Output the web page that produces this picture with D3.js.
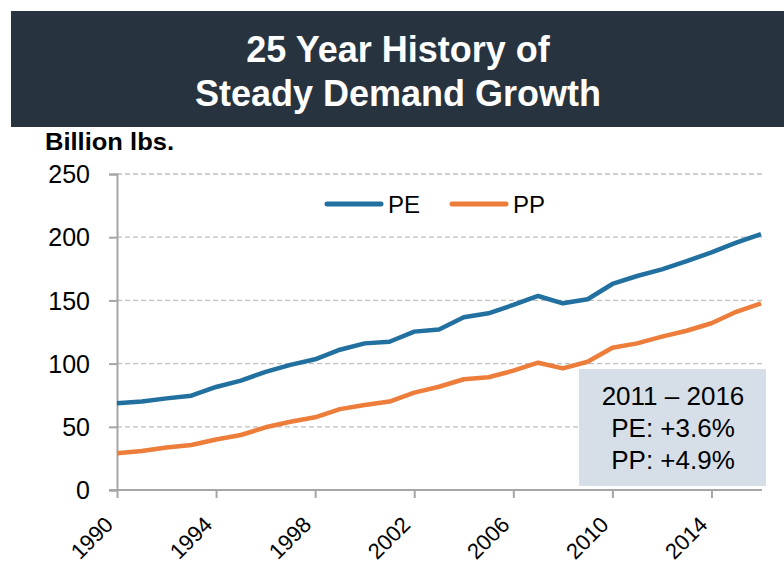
<!DOCTYPE html>
<html>
<head>
<meta charset="utf-8">
<script src="https://cdn.jsdelivr.net/npm/d3@7"></script>
<style>
  html, body { margin: 0; padding: 0; background: #fff; }
  svg { display: block; font-family: "Liberation Sans", Arial, sans-serif; }
</style>
</head>
<body>
<svg id="chart" width="784" height="566"></svg>
<script>
const years = d3.range(1990, 2017);
const peValues = [68.6, 70, 72.5, 74.6, 81.5, 86.5, 93.5, 99, 103.4, 111, 116, 117.3, 125.3, 127, 136.6, 139.8, 146.4, 153.5, 147.7, 150.9, 163, 169.3, 174.6, 181, 188, 195.7, 202.5];
const ppValues = [29, 30.9, 33.7, 35.6, 40, 43.5, 49.6, 54, 57.5, 64, 67.2, 70, 77, 81.7, 87.6, 89.2, 94.4, 100.7, 96.2, 101.5, 112.5, 116, 121.3, 126, 131.9, 141, 147.7];
const yTicks = [0, 50, 100, 150, 200, 250];
const xTickYears = [1990, 1994, 1998, 2002, 2006, 2010, 2014];
const seriesNames = ["PE", "PP"];
const seriesColors = ["#21709f", "#ed7d3a"];
const titleLines = ["25 Year History of", "Steady Demand Growth"];
const unitLabel = "Billion lbs.";
const noteLines = ["2011 \u2013 2016", "PE: +3.6%", "PP: +4.9%"];

const svg = d3.select("#chart");

// Title banner
svg.append("rect").attr("x", 11).attr("y", 11).attr("width", 773).attr("height", 116).attr("fill", "#27343f");
svg.selectAll("text.title").data(titleLines).enter().append("text")
  .attr("class", "title")
  .attr("x", 398).attr("y", (d, i) => 62 + i * 44)
  .attr("text-anchor", "middle").attr("fill", "#ffffff")
  .attr("font-weight", "bold").attr("font-size", 36)
  .text(d => d);

// Unit label
svg.append("text").attr("x", 45).attr("y", 150)
  .attr("font-weight", "bold").attr("font-size", 24).attr("fill", "#000")
  .attr("textLength", 129).attr("lengthAdjust", "spacingAndGlyphs")
  .text(unitLabel);

const x = d3.scaleLinear().domain([1990, 2016]).range([117, 761]);
const y = d3.scaleLinear().domain([0, 250]).range([490, 174]);

// Gridlines
svg.append("g").selectAll("line").data(yTicks.filter(d => d > 0)).enter().append("line")
  .attr("x1", 117).attr("x2", 762)
  .attr("y1", d => y(d)).attr("y2", d => y(d))
  .attr("stroke", "#c0c0c0").attr("stroke-width", 1.3).attr("stroke-dasharray", "5,3");

// Annotation box
svg.append("rect").attr("x", 579).attr("y", 369).attr("width", 187).attr("height", 117).attr("fill", "#d6dfe7");
svg.selectAll("text.note").data(noteLines).enter().append("text")
  .attr("class", "note")
  .attr("x", 673).attr("y", (d, i) => 405 + i * 32)
  .attr("text-anchor", "middle").attr("font-size", 26).attr("fill", "#000")
  .text(d => d);

// Y axis
const yAxis = d3.axisLeft(y).tickValues(yTicks).tickSize(8).tickPadding(19);
const gy = svg.append("g").attr("transform", "translate(117,0)").call(yAxis);
gy.select(".domain").attr("stroke", "#a6a6a6").attr("stroke-width", 2);
gy.selectAll(".tick line").attr("stroke", "#a6a6a6").attr("stroke-width", 2);
gy.selectAll(".tick text").attr("font-size", 25).attr("fill", "#000")
  .attr("font-family", "Liberation Sans, Arial, sans-serif").attr("dy", "0.35em");

// X axis
const xAxis = d3.axisBottom(x).tickValues(xTickYears).tickFormat(d3.format("d")).tickSize(8).tickSizeOuter(0);
const gx = svg.append("g").attr("transform", "translate(0,490)").call(xAxis);
gx.select(".domain").attr("stroke", "#a6a6a6").attr("stroke-width", 2).attr("d", "M109,0H762");
gx.selectAll(".tick line").attr("stroke", "#a6a6a6").attr("stroke-width", 2);
gx.selectAll(".tick text").attr("font-size", 22).attr("fill", "#000")
  .attr("font-family", "Liberation Sans, Arial, sans-serif")
  .attr("text-anchor", "end").attr("dy", null).attr("y", 0)
  .attr("transform", "translate(-3,36) rotate(-45)");

// Lines
const allSeries = [peValues, ppValues];
const line = d3.line().x((d, i) => x(years[i])).y(d => y(d));
svg.append("g").selectAll("path").data(allSeries).enter().append("path")
  .attr("d", d => line(d)).attr("fill", "none")
  .attr("stroke", (d, i) => seriesColors[i]).attr("stroke-width", 4.5)
  .attr("stroke-linejoin", "round");

// Legend
const legendX = [327, 452];
const lg = svg.append("g").selectAll("g").data(seriesNames).enter().append("g");
lg.append("line").attr("x1", (d, i) => legendX[i]).attr("x2", (d, i) => legendX[i] + 54)
  .attr("y1", 204).attr("y2", 204)
  .attr("stroke", (d, i) => seriesColors[i]).attr("stroke-width", 5).attr("stroke-linecap", "round");
lg.append("text").attr("x", (d, i) => legendX[i] + 61).attr("y", 213)
  .attr("font-size", 24).attr("fill", "#000").text(d => d);
</script>
</body>
</html>
